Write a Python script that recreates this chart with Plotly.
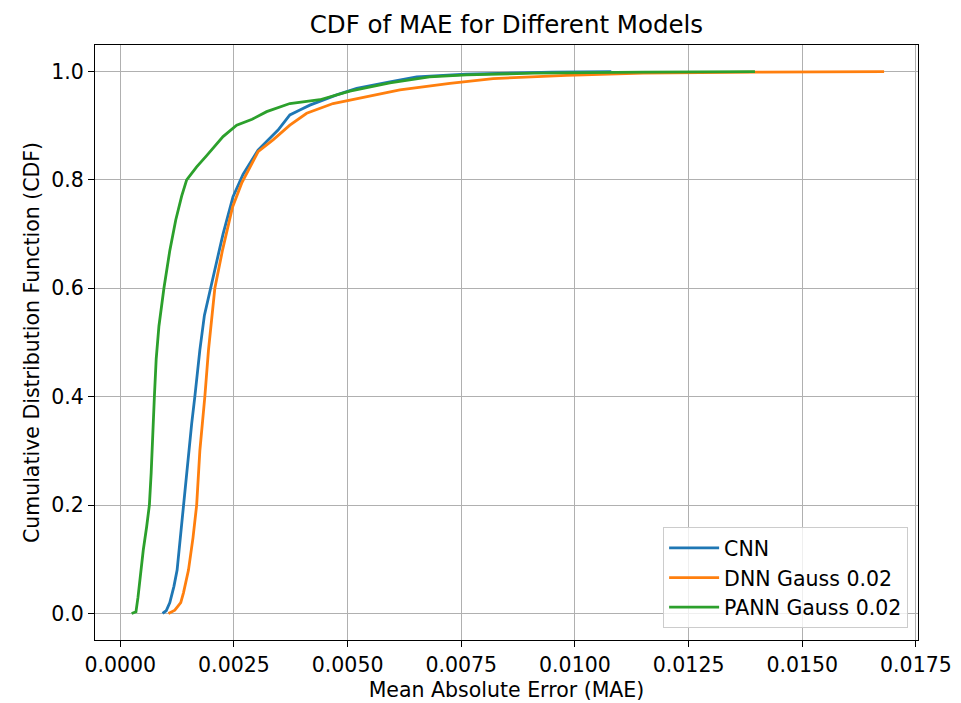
import plotly.graph_objects as go

# ---- data ----
cnn_x = [0.00093, 0.00101, 0.00109, 0.00118, 0.00125, 0.00132, 0.00139, 0.00145, 0.00150,
         0.00157, 0.00164, 0.00175, 0.00185, 0.00198, 0.00218, 0.00226, 0.00248, 0.00270,
         0.00303, 0.00347, 0.00373, 0.00395, 0.00417, 0.00476, 0.00520, 0.00593, 0.00652,
         0.00760, 0.00857, 0.00950, 0.01080]
cnn_y = [0.0, 0.005, 0.02, 0.05, 0.08, 0.14, 0.20, 0.25, 0.30,
         0.35, 0.40, 0.486, 0.55, 0.60, 0.671, 0.70, 0.769, 0.81,
         0.855, 0.892, 0.92, 0.929, 0.938, 0.957, 0.969, 0.981, 0.99,
         0.995, 0.997, 0.999, 1.0]

dnn_x = [0.00106, 0.00120, 0.00133, 0.00139, 0.00150, 0.00160, 0.00168, 0.00175, 0.00186,
         0.00194, 0.00208, 0.00225, 0.00247, 0.00267, 0.00303, 0.00336, 0.00373, 0.00410,
         0.00468, 0.00542, 0.00615, 0.00725, 0.00820, 0.00982, 0.01150, 0.01400, 0.01680]
dnn_y = [0.0, 0.006, 0.02, 0.038, 0.08, 0.14, 0.20, 0.30, 0.40,
         0.486, 0.60, 0.671, 0.75, 0.794, 0.852, 0.874, 0.901, 0.923,
         0.941, 0.954, 0.966, 0.978, 0.987, 0.993, 0.997, 0.999, 1.0]

pann_x = [0.00025, 0.000345, 0.00039, 0.00045, 0.000506, 0.00058, 0.00064, 0.00068, 0.00071,
          0.00075, 0.00079, 0.00085, 0.00096, 0.00109, 0.00122, 0.00135, 0.00146, 0.00168,
          0.00190, 0.00226, 0.00256, 0.00290, 0.00322, 0.00373, 0.00439, 0.00505, 0.00593,
          0.00680, 0.00762, 0.00910, 0.01150, 0.01396]
pann_y = [0.0, 0.003, 0.03, 0.08, 0.117, 0.16, 0.20, 0.26, 0.33,
          0.40, 0.47, 0.53, 0.60, 0.67, 0.726, 0.77, 0.80, 0.824,
          0.845, 0.88, 0.901, 0.912, 0.926, 0.941, 0.948, 0.964, 0.979,
          0.99, 0.994, 0.997, 0.999, 1.0]

series_names = ["CNN", "DNN Gauss 0.02", "PANN Gauss 0.02"]
colors = ["#1f77b4", "#ff7f0e", "#2ca02c"]

x_ticks = [0.0, 0.0025, 0.005, 0.0075, 0.01, 0.0125, 0.015, 0.0175]
y_ticks = [0.0, 0.2, 0.4, 0.6, 0.8, 1.0]

FONT = "DejaVu Sans"
FS = 20.5

fig = go.Figure()
for xs, ys, name, c in zip([cnn_x, dnn_x, pann_x], [cnn_y, dnn_y, pann_y], series_names, colors):
    fig.add_trace(go.Scatter(x=xs, y=ys, mode="lines", name=name,
                             line=dict(color=c, width=2.8)))

axis_common = dict(
    showline=True, linecolor="black", linewidth=1.2, mirror=True,
    ticks="outside", ticklen=6, tickwidth=1.2, tickcolor="black",
    showgrid=True, gridcolor="#b0b0b0", gridwidth=1.2,
    zeroline=False, tickfont=dict(family=FONT, size=FS, color="black"),
    automargin=False,
)

fig.update_layout(
    width=961, height=703,
    margin=dict(l=95, r=43, t=45, b=63),
    paper_bgcolor="white", plot_bgcolor="white",
    font=dict(family=FONT, color="black"),
    title=dict(text="CDF of MAE for Different Models", x=0.527, xanchor="center",
               y=1 - 24 / 703, yanchor="middle", font=dict(family=FONT, size=24.5, color="black")),
    xaxis=dict(range=[-0.000556, 0.017546], tickvals=x_ticks,
               ticktext=[f"{v:.4f}" for v in x_ticks],
               title=dict(text="Mean Absolute Error (MAE)", font=dict(family=FONT, size=FS), standoff=6),
               **axis_common),
    yaxis=dict(range=[-0.049, 1.049], tickvals=y_ticks,
               ticktext=[f"{v:.1f}" for v in y_ticks],
               title=dict(text="Cumulative Distribution Function (CDF)", font=dict(family=FONT, size=FS), standoff=6),
               **axis_common),
    legend=dict(x=0.988, xanchor="right", y=0.02, yanchor="bottom",
                bgcolor="rgba(255,255,255,0.8)", bordercolor="#cccccc", borderwidth=1,
                font=dict(family=FONT, size=FS, color="black"), tracegroupgap=4,
                itemwidth=50),
    showlegend=True,
)

fig.write_html("out.html")
